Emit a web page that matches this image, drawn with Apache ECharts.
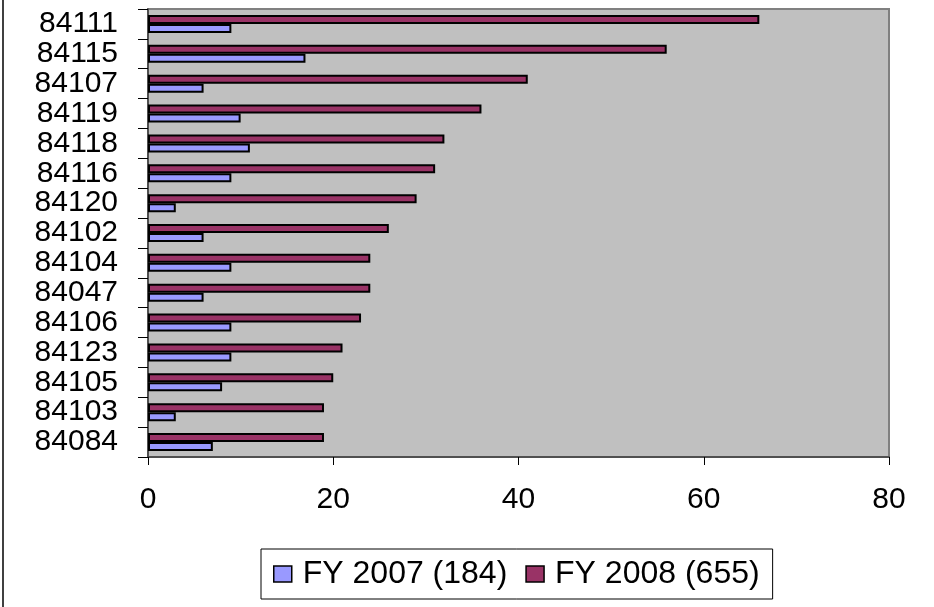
<!DOCTYPE html>
<html>
<head>
<meta charset="utf-8">
<script src="https://cdn.jsdelivr.net/npm/echarts@6/dist/echarts.min.js"></script>
<style>
  html, body { margin: 0; padding: 0; background: #fff; }
  #chart { width: 934px; height: 607px; }
</style>
</head>
<body>
<div id="chart"></div>
<script>
// categories, top to bottom
var codes = ['84111', '84115', '84107', '84119', '84118', '84116', '84120', '84102',
             '84104', '84047', '84106', '84123', '84105', '84103', '84084'];
var fy2007 = [9, 17, 6, 10, 11, 9, 3, 6, 9, 6, 9, 9, 8, 3, 7];
var fy2008 = [66, 56, 41, 36, 32, 31, 29, 26, 24, 24, 23, 21, 20, 19, 19];
var xTicks = [0, 20, 40, 60, 80];
var legendNames = ['FY 2007 (184)', 'FY 2008 (655)'];

var font = '"Liberation Sans", Arial, sans-serif';

var chart = echarts.init(document.getElementById('chart'));

var option = {
    animation: false,
    backgroundColor: '#ffffff',
    grid: {
        left: 148,
        right: 45,
        top: 9,
        bottom: 150,
        show: true,
        backgroundColor: '#C0C0C0',
        borderColor: '#808080',
        borderWidth: 2
    },
    legend: {
        data: legendNames,
        left: 261,
        top: 549,
        orient: 'horizontal',
        itemWidth: 18,
        itemHeight: 16,
        itemGap: 18,
        padding: [9, 13, 9, 12],
        borderColor: '#000',
        borderWidth: 1,
        icon: 'rect',
        itemStyle: { borderColor: '#000', borderWidth: 1.5 },
        textStyle: {
            fontFamily: font,
            fontSize: 32,
            color: '#000',
            padding: [0, 0, 0, 6]
        }
    },
    xAxis: {
        type: 'value',
        min: xTicks[0],
        max: xTicks[xTicks.length - 1],
        interval: 20,
        axisLine: { show: true, lineStyle: { color: '#404040', width: 1.5 } },
        axisTick: { show: true, length: 8, lineStyle: { color: '#000' } },
        splitLine: { show: false },
        axisLabel: {
            margin: 28,
            fontFamily: font,
            fontSize: 30,
            color: '#000'
        }
    },
    yAxis: {
        type: 'category',
        inverse: true,
        data: codes,
        axisLine: { show: true, lineStyle: { color: '#404040', width: 1.5 } },
        axisTick: { show: true, length: 10, interval: 0, lineStyle: { color: '#000' } },
        axisLabel: {
            interval: 0,
            margin: 30,
            fontFamily: font,
            fontSize: 30,
            color: '#000'
        }
    },
    series: [
        {
            name: legendNames[1],
            type: 'bar',
            data: fy2008,
            barWidth: 9,
            barGap: '0%',
            itemStyle: { color: '#993366', borderColor: '#000', borderWidth: 2 }
        },
        {
            name: legendNames[0],
            type: 'bar',
            data: fy2007,
            barWidth: 9,
            barGap: '0%',
            itemStyle: { color: '#9999FF', borderColor: '#000', borderWidth: 2 }
        }
    ],
    graphic: [
        {
            type: 'line',
            shape: { x1: 3, y1: 0, x2: 3, y2: 607 },
            style: { stroke: '#000', lineWidth: 1.5 }
        }
    ]
};

chart.setOption(option);
</script>
</body>
</html>
